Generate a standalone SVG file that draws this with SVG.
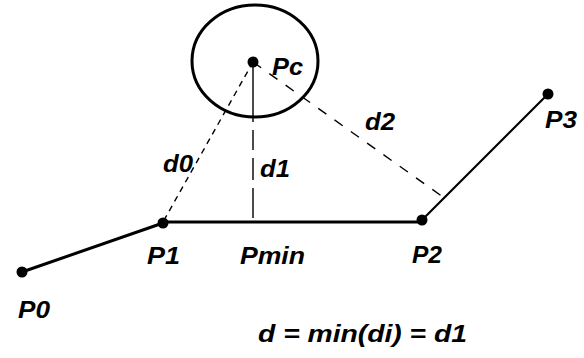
<svg xmlns="http://www.w3.org/2000/svg" width="584" height="358" viewBox="0 0 584 358">
<style>
text{font-family:"Liberation Sans",Arial,sans-serif;font-weight:bold;font-style:italic;font-size:23px;fill:#000}
.seg{stroke:#000;fill:none;stroke-linecap:round}
.dash{stroke:#000;stroke-width:1.4;fill:none}
.dot{fill:#000}
</style>
<rect width="584" height="358" fill="#fff"/>
<g id="connectors">
<line class="seg" x1="22" y1="272" x2="163" y2="223" stroke-width="3"/>
<line class="seg" x1="163" y1="222" x2="422" y2="222" stroke-width="3.2"/>
<line class="seg" x1="422" y1="220" x2="548" y2="94" stroke-width="2.2"/>
<line class="dash" x1="253" y1="62" x2="163" y2="222" stroke-dasharray="6 5"/>
<line class="dash" x1="253" y1="62" x2="253" y2="222" stroke-dasharray="60 8 20 8 22 8 30"/>
<line class="dash" x1="253" y1="62" x2="443" y2="197" stroke-dasharray="10 10"/>
</g>
<g id="circle"><ellipse cx="255" cy="61" rx="63" ry="56" fill="none" stroke="#000" stroke-width="3"/></g>
<g id="Pc"><circle class="dot" cx="253" cy="62" r="5.5"/><text x="272" y="75" textLength="31" lengthAdjust="spacingAndGlyphs">Pc</text></g>
<g id="P0"><circle class="dot" cx="22" cy="272" r="5.5"/><text x="18" y="318" textLength="32" lengthAdjust="spacingAndGlyphs">P0</text></g>
<g id="P1"><circle class="dot" cx="163" cy="223" r="5.5"/><text x="147" y="264" textLength="33" lengthAdjust="spacingAndGlyphs">P1</text></g>
<g id="Pmin"><text x="240" y="264" textLength="65" lengthAdjust="spacingAndGlyphs">Pmin</text></g>
<g id="P2"><circle class="dot" cx="422" cy="220" r="5.5"/><text x="412" y="263" textLength="30" lengthAdjust="spacingAndGlyphs">P2</text></g>
<g id="P3"><circle class="dot" cx="548" cy="94" r="5.5"/><text x="545" y="128" textLength="32" lengthAdjust="spacingAndGlyphs">P3</text></g>
<g id="labels">
<text x="163" y="172" textLength="30" lengthAdjust="spacingAndGlyphs">d0</text>
<text x="260" y="177" textLength="30" lengthAdjust="spacingAndGlyphs">d1</text>
<text x="365" y="130" textLength="30" lengthAdjust="spacingAndGlyphs">d2</text>
<text x="258" y="342" textLength="209" lengthAdjust="spacingAndGlyphs">d = min(di) = d1</text>
</g>
</svg>
